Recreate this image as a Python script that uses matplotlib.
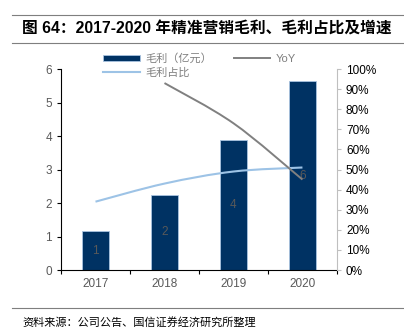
import matplotlib
matplotlib.use("Agg")
import matplotlib.pyplot as plt
import numpy as np
from matplotlib.path import Path
from matplotlib.patches import PathPatch
from matplotlib.ticker import PercentFormatter, FixedLocator

plt.rcParams['font.family'] = ['Liberation Sans', 'Noto Sans CJK SC', 'DejaVu Sans']

years = ['2017', '2018', '2019', '2020']
gross_profit = [1.16, 2.24, 3.88, 5.64]      # 毛利（亿元）
profit_share = [34, 43, 49, 51]              # 毛利占比 %
yoy = [None, 93, 73, 45]                     # YoY %

TXT = '#595959'
NAVY = '#003263'


def smooth_path(xs, ys):
    # Catmull-Rom style bezier through the points, like Excel's smoothed lines
    pts = list(zip(xs, ys))
    verts = [pts[0]]
    codes = [Path.MOVETO]
    for i in range(len(pts) - 1):
        p0 = pts[i - 1] if i > 0 else pts[i]
        p1, p2 = pts[i], pts[i + 1]
        p3 = pts[i + 2] if i + 2 < len(pts) else pts[i + 1]
        c1 = (p1[0] + (p2[0] - p0[0]) / 6, p1[1] + (p2[1] - p0[1]) / 6)
        c2 = (p2[0] - (p3[0] - p1[0]) / 6, p2[1] - (p3[1] - p1[1]) / 6)
        verts += [c1, c2, p2]
        codes += [Path.CURVE4] * 3
    return Path(verts, codes)


fig = plt.figure(figsize=(4.04, 3.35), dpi=100)
ax = fig.add_axes([0.151, 0.194, 0.683, 0.600])
ax2 = ax.twinx()

x = np.arange(len(years))
bars = ax.bar(x, gross_profit, width=0.4, color=NAVY, edgecolor='#a9c4e0',
              linewidth=0.6, label='毛利（亿元）', zorder=2)
for xi, v in zip(x, gross_profit):
    ax.text(xi, v / 2, f'{v:.0f}', ha='center', va='center', color=TXT,
            fontsize=8.5, zorder=5)

ax.set_xlim(-0.5, 3.5)
ax.set_ylim(0, 6)
ax.set_yticks(range(0, 7))
ax.xaxis.set_major_locator(FixedLocator(np.arange(-0.5, 4, 1)))
ax.xaxis.set_minor_locator(FixedLocator(x))
ax.set_xticklabels([])
ax.set_xticklabels(years, minor=True)
ax.tick_params(axis='x', which='major', length=3, color='black', direction='out')
ax.tick_params(axis='x', which='minor', length=0, pad=6, labelsize=8.5, labelcolor=TXT)
ax.tick_params(axis='y', length=3, color='black', labelsize=8.5, labelcolor=TXT)
for s in ['top', 'right']:
    ax.spines[s].set_visible(False)
ax.spines['left'].set_color('black')
ax.spines['bottom'].set_color('black')
ax.spines['bottom'].set_zorder(6)

ax2.set_ylim(0, 100)
ax2.set_yticks(range(0, 101, 10))
ax2.yaxis.set_major_formatter(PercentFormatter(decimals=0))
ax2.tick_params(axis='y', length=3, color='#bfbfbf', labelsize=8.5, labelcolor='black')
for s in ['top', 'left', 'bottom']:
    ax2.spines[s].set_visible(False)
ax2.spines['right'].set_color('#bfbfbf')

# smoothed lines on the percentage axis
share_path = smooth_path(x, profit_share)
ax2.add_patch(PathPatch(share_path, facecolor='none', edgecolor='#9dc3e6', lw=1.5, zorder=3))
yx = [xi for xi, v in zip(x, yoy) if v is not None]
yv = [v for v in yoy if v is not None]
yoy_path = smooth_path(yx, yv)
ax2.add_patch(PathPatch(yoy_path, facecolor='none', edgecolor='#808080', lw=1.4, zorder=3))

share_handle, = ax2.plot([], [], color='#9dc3e6', lw=1.5, label='毛利占比')
yoy_handle, = ax2.plot([], [], color='#808080', lw=1.4, label='YoY')

leg = fig.legend(handles=[bars, share_handle, yoy_handle], ncol=2,
                 loc='upper left', bbox_to_anchor=(0.245, 0.855), frameon=False,
                 fontsize=8, handlelength=3.3, handleheight=0.5,
                 columnspacing=1.9, handletextpad=0.5, labelspacing=0.35,
                 borderaxespad=0)
for t in leg.get_texts():
    t.set_color('#7f7f7f')

# title and footer with rules
fig.add_artist(plt.Line2D([0.03, 1.0], [0.955, 0.955], color='#7f7f7f', lw=0.8))
fig.add_artist(plt.Line2D([0.03, 1.0], [0.872, 0.872], color='#7f7f7f', lw=0.8))
fig.text(0.055, 0.912, '图 64：2017-2020 年精准营销毛利、毛利占比及增速',
         fontsize=11.3, fontweight='bold', va='center', ha='left', color='black')
fig.add_artist(plt.Line2D([0.03, 1.0], [0.081, 0.081], color='#7f7f7f', lw=0.8))
fig.text(0.055, 0.038, '资料来源：公司公告、国信证券经济研究所整理',
         fontsize=8, va='center', ha='left', color='black')

fig.savefig('out.png', dpi=100)
